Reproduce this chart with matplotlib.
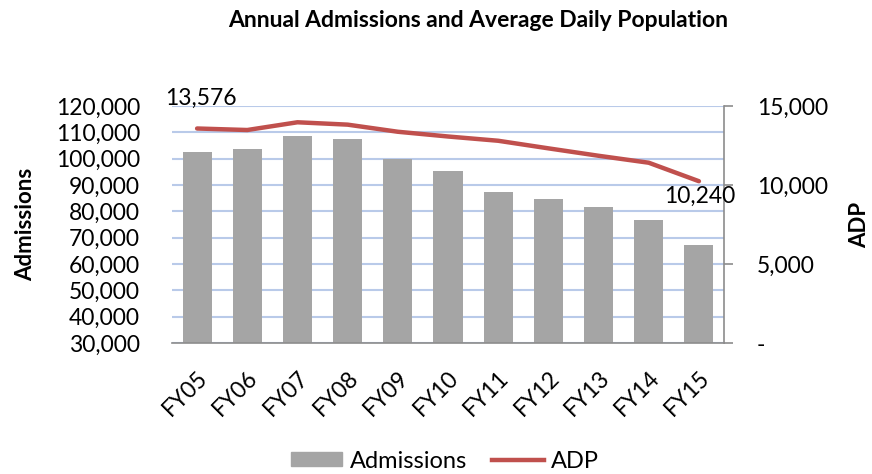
import numpy as np
import matplotlib
matplotlib.use("Agg")
import matplotlib.pyplot as plt
from matplotlib.ticker import FuncFormatter

# Data
years      = ["FY05", "FY06", "FY07", "FY08", "FY09", "FY10", "FY11", "FY12", "FY13", "FY14", "FY15"]
admissions = [102500, 103500, 108500, 107400, 99800, 95200, 87200, 84600, 81500, 76800, 67300]
adp        = [13576, 13480, 13970, 13820, 13370, 13070, 12800, 12320, 11850, 11410, 10240]

BAR_COLOR  = "#a5a5a5"
LINE_COLOR = "#c0504d"
GRID_COLOR = "#b9cae9"
AXIS_COLOR = "#8c8c8c"
NUM_SIZE   = 16.5

plt.rcParams['font.family'] = ['Lato', 'DejaVu Sans']

fig = plt.figure(figsize=(8.72, 4.74), dpi=100)
ax = fig.add_axes([172/872, 1-343/474, (724-172)/872, (343-106)/474])
ax2 = ax.twinx()

x = np.arange(len(years))
ax.bar(x, admissions, width=0.58, color=BAR_COLOR, zorder=2)
ax2.plot(x, adp, color=LINE_COLOR, linewidth=3.2, solid_capstyle='round', zorder=3)

# Left axis
ax.set_xlim(-0.5, len(years) - 0.5)
ax.set_ylim(30000, 120000)
ax.set_yticks(np.arange(30000, 120001, 10000))
ax.yaxis.set_major_formatter(FuncFormatter(lambda v, p: f"{v:,.0f}"))
ax.grid(axis='y', color=GRID_COLOR, linewidth=1.5, zorder=0)
ax.set_axisbelow(True)
ax.tick_params(axis='y', length=0, labelsize=NUM_SIZE, pad=23)
ax.tick_params(axis='x', length=0, labelsize=16.5, pad=17)
ax.set_xticks(x)
ax.set_xticklabels(years, rotation=45, ha='right', rotation_mode='anchor')
for s in ['left', 'top', 'right']:
    ax.spines[s].set_visible(False)
ax.spines['bottom'].set_color(AXIS_COLOR)
ax.spines['bottom'].set_linewidth(1.2)

# Right axis
ax2.set_ylim(0, 15000)
ax2.set_yticks([0, 5000, 10000, 15000])
ax2.yaxis.set_major_formatter(FuncFormatter(lambda v, p: "-" if v == 0 else f"{v:,.0f}"))
ax2.tick_params(axis='y', length=6.5, width=1.2, color=AXIS_COLOR, labelsize=NUM_SIZE, pad=17)
for s in ['left', 'top', 'bottom']:
    ax2.spines[s].set_visible(False)
ax2.spines['right'].set_color(AXIS_COLOR)
ax2.spines['right'].set_linewidth(1.2)

# Axis titles
fig.text(26/872, 0.526, "Admissions", rotation=90, fontsize=16, fontweight='bold',
         ha='center', va='center')
fig.text(860/872, 0.526, "ADP", rotation=90, fontsize=16, fontweight='bold',
         ha='center', va='center')

# Data labels
ax2.annotate(f"{adp[0]:,}", (x[0], adp[0]), xytext=(-23, 17), textcoords='offset points',
             fontsize=NUM_SIZE, ha='left', va='baseline')
ax2.annotate(f"{adp[-1]:,}", (x[-1], adp[-1]), xytext=(-25, -3), textcoords='offset points',
             fontsize=NUM_SIZE, ha='left', va='top')

fig.text(0.548, 0.956, "Annual Admissions and Average Daily Population", fontsize=16.5,
         fontweight='bold', ha='center', va='center')

# Legend
handles = [plt.Rectangle((0, 0), 1, 1, color=BAR_COLOR),
           plt.Line2D([0], [0], color=LINE_COLOR, linewidth=3.2)]
fig.legend(handles, ["Admissions", "ADP"], loc='center', bbox_to_anchor=(0.51, 13/474),
           ncol=2, frameon=False, fontsize=17, handlelength=2.2, handleheight=0.55,
           handletextpad=0.3, columnspacing=1.06, borderpad=0)

fig.savefig("out.png", dpi=100)
